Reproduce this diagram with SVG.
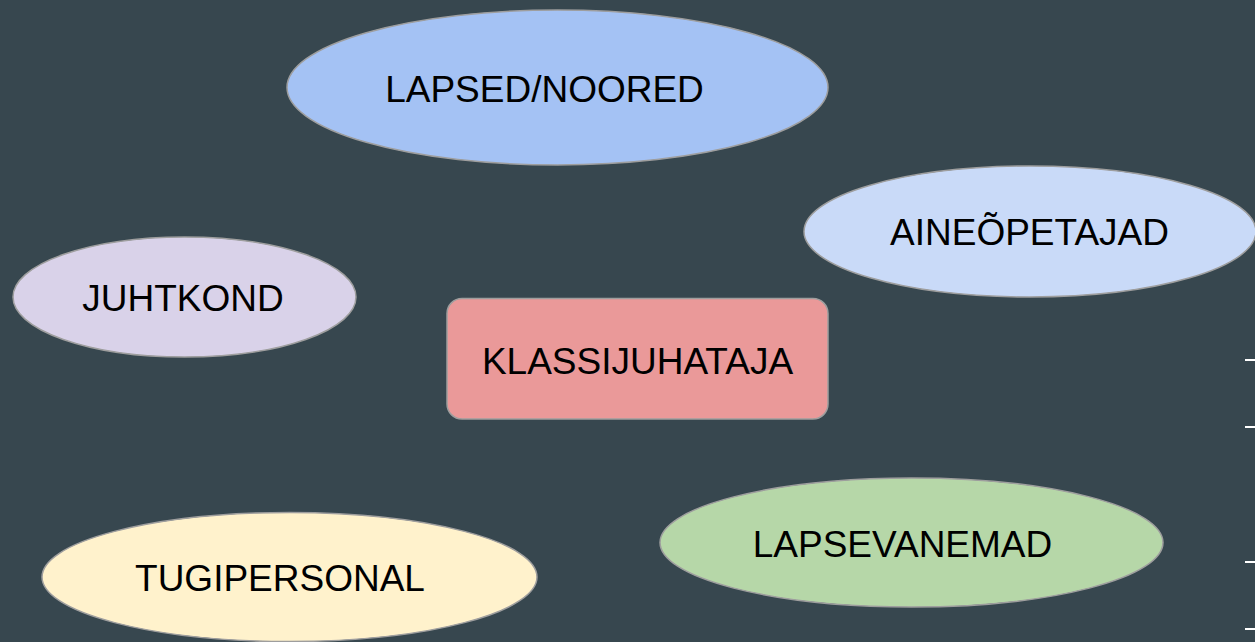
<svg xmlns="http://www.w3.org/2000/svg" width="1255" height="642" viewBox="0 0 1255 642">
<style>
.n{stroke:#9e9e9e;stroke-width:1.5}
.t{font-family:"Liberation Sans",Arial,sans-serif;font-size:37px;fill:#000;text-anchor:middle}
.d{stroke:#ffffff;stroke-width:2}
</style>
<rect x="0" y="0" width="1255" height="642" fill="#37474f"/>
<g id="lapsed">
<ellipse class="n" cx="557.5" cy="87.5" rx="270.5" ry="77.5" fill="#a4c2f4"/>
<text class="t" x="544.5" y="102">LAPSED/NOORED</text>
</g>
<g id="aineopetajad">
<ellipse class="n" cx="1030" cy="231.5" rx="226" ry="65.5" fill="#c9daf8"/>
<text class="t" x="1029.5" y="245">AINEÕPETAJAD</text>
</g>
<g id="juhtkond">
<ellipse class="n" cx="184.5" cy="297" rx="171.5" ry="60" fill="#d9d2e9"/>
<text class="t" x="183" y="311">JUHTKOND</text>
</g>
<g id="klassijuhataja">
<rect class="n" x="447" y="298.5" width="381" height="120.5" rx="15" fill="#ea9999"/>
<text class="t" x="637.5" y="374">KLASSIJUHATAJA</text>
</g>
<g id="lapsevanemad">
<ellipse class="n" cx="911.5" cy="542.5" rx="251.5" ry="64.5" fill="#b6d7a8"/>
<text class="t" x="902.5" y="557">LAPSEVANEMAD</text>
</g>
<g id="tugipersonal">
<ellipse class="n" cx="289.5" cy="577" rx="247.5" ry="64.5" fill="#fff2cc"/>
<text class="t" x="280" y="591">TUGIPERSONAL</text>
</g>
<g id="connectors"></g>
<g id="edge-marks">
<line class="d" x1="1245" y1="360" x2="1255" y2="360"/>
<line class="d" x1="1245" y1="427" x2="1255" y2="427"/>
<line class="d" x1="1245" y1="562" x2="1255" y2="562"/>
<line class="d" x1="1245" y1="629" x2="1255" y2="629"/>
</g>
</svg>
